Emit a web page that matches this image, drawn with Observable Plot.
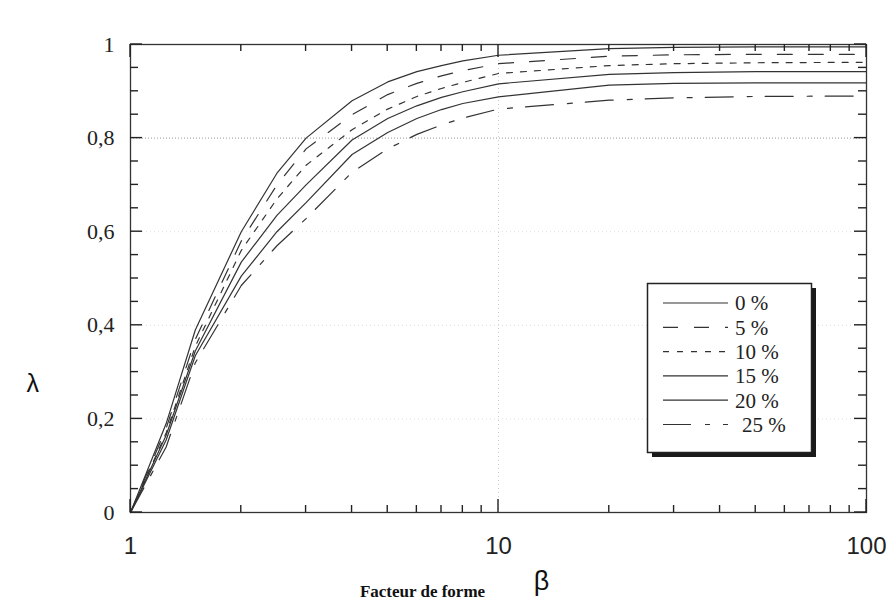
<!DOCTYPE html>
<html>
<head>
<meta charset="utf-8">
<script src="https://cdn.jsdelivr.net/npm/d3@7"></script>
<script src="https://cdn.jsdelivr.net/npm/@observablehq/plot@0.6"></script>
<style>
  body { margin: 0; background: #fff; }
  #wrap { position: relative; width: 889px; height: 610px; }
  #legend { position: absolute; left: 646px; top: 282px; }
</style>
</head>
<body>
<div id="wrap"></div>
<script>
// Facteur de forme (beta)
const betas = [1, 1.25, 1.5, 2, 2.5, 3, 4, 5, 6, 7, 8, 10, 20, 30, 50, 100];
// lambda for each percentage
const p0  = [0, 0.19, 0.39, 0.60, 0.725, 0.80, 0.88, 0.92, 0.942, 0.955, 0.965, 0.977, 0.991, 0.994, 0.995, 0.995];
const p5  = [0, 0.18, 0.37, 0.58, 0.70, 0.777, 0.85, 0.893, 0.917, 0.933, 0.944, 0.959, 0.975, 0.978, 0.979, 0.979];
const p10 = [0, 0.17, 0.355, 0.56, 0.67, 0.742, 0.818, 0.862, 0.889, 0.906, 0.919, 0.938, 0.955, 0.959, 0.961, 0.962];
const p15 = [0, 0.165, 0.345, 0.535, 0.635, 0.700, 0.796, 0.842, 0.869, 0.887, 0.899, 0.916, 0.936, 0.940, 0.942, 0.942];
const p20 = [0, 0.155, 0.335, 0.505, 0.600, 0.662, 0.765, 0.812, 0.842, 0.861, 0.874, 0.888, 0.913, 0.917, 0.918, 0.918];
const p25 = [0, 0.14, 0.32, 0.485, 0.570, 0.628, 0.727, 0.777, 0.808, 0.828, 0.843, 0.862, 0.881, 0.886, 0.889, 0.890];

const seriesNames = ["0 %", "5 %", "10 %", "15 %", "20 %", "25 %"];
const seriesValues = [p0, p5, p10, p15, p20, p25];
const seriesDash = [null, "15,16", "6,8", null, null, "28,14,5,13"];

const xTickValues = [1, 10, 100];
const xTickLabels = ["1", "10", "100"];
const xMinorTicks = [2, 3, 4, 5, 6, 7, 8, 9, 20, 30, 40, 50, 60, 70, 80, 90];
const yTickValues = [0, 0.2, 0.4, 0.6, 0.8, 1];
const yTickLabels = ["0", "0,2", "0,4", "0,6", "0,8", "1"];
const yMinorTicks = [0.05, 0.1, 0.15, 0.25, 0.3, 0.35, 0.45, 0.5, 0.55, 0.65, 0.7, 0.75, 0.85, 0.9, 0.95];

const ink = "#333";
const W = 889, H = 610, ML = 130, MR = 23, MT = 44, MB = 98;

const rows = seriesNames.flatMap((name, k) =>
  betas.map((b, i) => ({ serie: name, beta: b, lambda: seriesValues[k][i] }))
);

const lineMarks = seriesNames.map((name, k) =>
  Plot.line(rows.filter(r => r.serie === name), {
    x: "beta", y: "lambda",
    stroke: ink, strokeWidth: 1.2,
    strokeDasharray: seriesDash[k] ?? undefined
  })
);

const chart = Plot.plot({
  width: W,
  height: H,
  marginLeft: ML,
  marginRight: MR,
  marginTop: MT,
  marginBottom: MB,
  style: { background: "transparent", overflow: "visible" },
  x: { type: "log", domain: [1, 100], label: null },
  y: { domain: [0, 1], label: null },
  marks: [
    Plot.gridY([0.2, 0.4, 0.6], { stroke: "#ddd", strokeOpacity: 1, strokeDasharray: "1,3" }),
    Plot.gridY([0.8], { stroke: "#999", strokeOpacity: 1, strokeDasharray: "1,2" }),
    Plot.gridX([10], { stroke: "#ccc", strokeOpacity: 1, strokeDasharray: "1,3" }),
    Plot.axisY(yTickValues, {
      anchor: "left", tickSize: 0, tickPadding: 16, label: null,
      tickFormat: d => yTickLabels[yTickValues.indexOf(d)],
      fontSize: 22, fontFamily: "Liberation Serif", fill: "#222"
    }),
    Plot.axisX(xTickValues, {
      anchor: "bottom", tickSize: 0, tickPadding: 24, label: null,
      tickFormat: d => xTickLabels[xTickValues.indexOf(d)],
      fontSize: 24, fontFamily: "Liberation Sans", fill: "#222"
    }),
    ...lineMarks,
    Plot.frame({ stroke: ink, strokeWidth: 1.3 }),
    Plot.text(["λ"], { frameAnchor: "left", dx: -104, dy: 105, fontSize: 25, fontFamily: "Liberation Sans", fill: "#111" }),
    Plot.text(["Facteur de forme"], { frameAnchor: "bottom", dx: -76, dy: 84, fontSize: 17, fontWeight: "bold", fontFamily: "Liberation Serif", fill: "#111" }),
    Plot.text(["β"], { frameAnchor: "bottom", dx: 43, dy: 77, fontSize: 27, fontFamily: "Liberation Sans", fill: "#111" })
  ]
});

const wrap = document.getElementById("wrap");
wrap.appendChild(chart);

// inward ticks on all four sides, positioned with Plot's own scales
const sx = chart.scale("x"), sy = chart.scale("y");
const svg = d3.select(chart.tagName.toLowerCase() === "svg" ? chart : chart.querySelector("svg"));
const X = v => sx.apply(v), Y = v => sy.apply(v);
const x0 = X(1), x1 = X(100), y0 = Y(0), y1 = Y(1);
const tg = svg.append("g").attr("stroke", "#222").attr("stroke-width", 1.4);
const addY = (vals, s) => vals.forEach(v => {
  tg.append("line").attr("x1", x0).attr("x2", x0 + s).attr("y1", Y(v)).attr("y2", Y(v));
  tg.append("line").attr("x1", x1).attr("x2", x1 - s).attr("y1", Y(v)).attr("y2", Y(v));
});
const addX = (vals, s) => vals.forEach(v => {
  tg.append("line").attr("x1", X(v)).attr("x2", X(v)).attr("y1", y0).attr("y2", y0 - s);
  tg.append("line").attr("x1", X(v)).attr("x2", X(v)).attr("y1", y1).attr("y2", y1 + s);
});
addY(yMinorTicks, 8);
addY(yTickValues, 12);
addX(xMinorTicks, 7);
addX(xTickValues, 13);

// Legend (inset box with shadow)
const legend = d3.select(wrap).append("svg")
  .attr("id", "legend").attr("width", 175).attr("height", 180);
legend.append("rect").attr("x", 6).attr("y", 6).attr("width", 164).attr("height", 169).attr("fill", "#1a1a1a");
legend.append("rect").attr("x", 1.5).attr("y", 1.5).attr("width", 164).attr("height", 169)
  .attr("fill", "#fff").attr("stroke", "#222").attr("stroke-width", 1.5);
seriesNames.forEach((name, k) => {
  const yy = 21 + k * 24.3;
  legend.append("line").attr("x1", 17).attr("x2", 82).attr("y1", yy).attr("y2", yy)
    .attr("stroke", ink).attr("stroke-width", 1.2)
    .attr("stroke-dasharray", seriesDash[k] ?? null);
  legend.append("text").attr("x", k === 5 ? 96 : 89).attr("y", yy).attr("dy", "0.35em")
    .attr("font-family", "Liberation Serif").attr("font-size", 21).attr("fill", "#222")
    .text(name);
});
</script>
</body>
</html>
